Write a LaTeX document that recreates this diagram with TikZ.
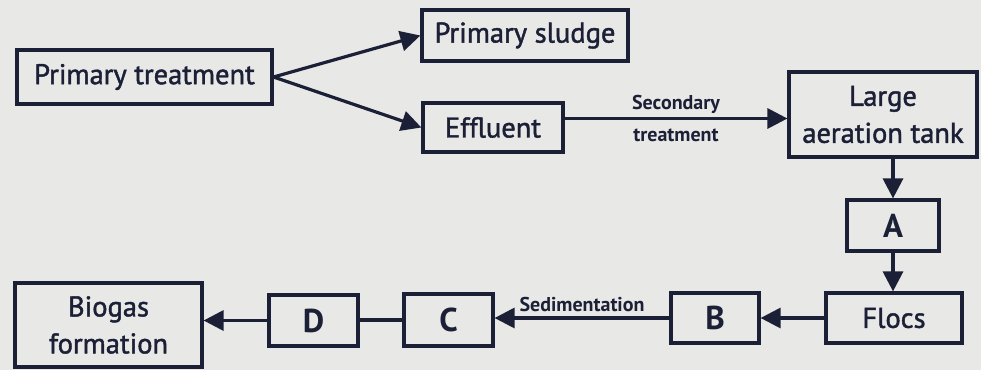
\documentclass[tikz,border=0pt]{standalone}
\usepackage{fontspec}
\setmainfont{PT Sans}
\newfontfamily\boxfont{PT Sans}[FakeBold=1.5]
\usetikzlibrary{arrows.meta,positioning}
\definecolor{ink}{HTML}{1B2036}
\definecolor{paper}{HTML}{E8E8E6}

\begin{document}
\begin{tikzpicture}[x=1pt,y=-1pt,
	box/.style={draw=ink,line width=3.2pt,inner sep=0pt,align=center,text=ink,font=\boxfont\fontsize{28.5}{37}\selectfont},
	letter/.style={box,font=\fontsize{33}{36}\selectfont\bfseries},
	arr/.style={draw=ink,line width=3.2pt,-{Triangle[length=20pt,width=20pt]}},
	lnk/.style={draw=ink,line width=3.2pt},
	lbl/.style={text=ink,align=center,font=\fontsize{20}{32}\selectfont\bfseries}]
	\fill[paper] (0,0) rectangle (981,370);

	\node[box,minimum width=255pt,minimum height=54pt] (pt) at (144.5,77) {Primary treatment};
	\node[box,minimum width=206pt,minimum height=51pt] (ps) at (525,35.5) {Primary sludge};
	\node[box,minimum width=140pt,minimum height=49pt] (ef) at (493,127.5) {Effluent};
	\node[box,minimum width=188pt,minimum height=85pt] (la) at (883,114.5) {Large\\aeration tank};
	\node[letter,minimum width=92pt,minimum height=51pt] (a) at (893,225.5) {A};
	\node[box,minimum width=136pt,minimum height=50pt] (fl) at (894,318) {Flocs};
	\node[letter,minimum width=88pt,minimum height=50pt] (b) at (715,318) {B};
	\node[letter,minimum width=89pt,minimum height=52pt] (c) at (448.5,320) {C};
	\node[letter,minimum width=89pt,minimum height=51pt] (d) at (313.5,320.5) {D};
	\node[box,minimum width=187pt,minimum height=84pt] (bg) at (108.5,325) {Biogas\\formation};

	\draw[arr] (pt.east) -- (ps.west);
	\draw[arr] (pt.east) -- (ef.west);
	\draw[arr] ([yshift=9pt]ef.east) -- ([yshift=9pt]ef.east -| la.west)
		node[lbl,midway] (st) {Secondary\\treatment};
	\draw[arr] (a.north |- la.south) -- (a.north);
	\draw[arr] (a.south) -- (fl.north -| a.south);
	\draw[arr] (fl.west) -- (fl.west -| b.east);
	\draw[arr] (b.west) -- (b.west -| c.east)
		node[lbl,midway,above=1pt] (sd) {Sedimentation};
	\draw[lnk] (c.west) -- (c.west -| d.east);
	\draw[arr] (d.west) -- (d.west -| bg.east);
\end{tikzpicture}
\end{document}
